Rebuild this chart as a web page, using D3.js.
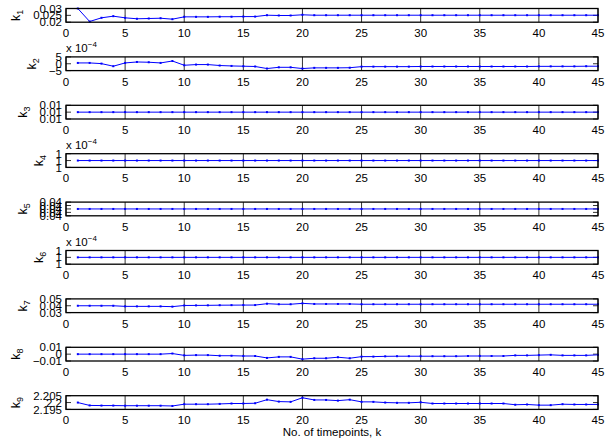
<!DOCTYPE html>
<html><head><meta charset="utf-8">
<script src="https://cdn.jsdelivr.net/npm/d3@7"></script>
<style>body{margin:0;background:#fff} text{font-family:"Liberation Sans",Arial,Helvetica,sans-serif;fill:#000}</style>
</head><body>
<svg id="c" width="605" height="443"></svg>
<script>
// ---- data ----
const timepoints = [1,2,3,4,5,6,7,8,9,10,11,12,13,14,15,16,17,18,19,20,21,22,23,24,25,26,27,28,29,30,31,32,33,34,35,36,37,38,39,40,41,42,43,44,45];
const xTicks = [0,5,10,15,20,25,30,35,40,45];

const k1 = [0.0300,0.0205,0.0232,0.0244,0.0232,0.0225,0.0227,0.0229,0.0222,0.0239,0.0239,0.0239,0.0240,0.0240,0.0241,0.0241,0.0251,0.0249,0.0249,0.0254,0.0251,0.0251,0.0251,0.0251,0.0251,0.0251,0.0251,0.0251,0.0251,0.0251,0.0251,0.0251,0.0251,0.0251,0.0251,0.0251,0.0251,0.0251,0.0251,0.0251,0.0251,0.0251,0.0251,0.0251,0.0251];
// k2 in units of 1e-4
const k2 = [0.6,0.6,0.1,-1.8,0.6,1.3,1.1,0.6,2.0,-1.1,-0.6,-0.6,-1.3,-1.6,-1.8,-2.0,-3.5,-2.6,-2.6,-3.5,-3.0,-3.0,-3.0,-2.9,-2.1,-2.1,-2.1,-2.1,-2.1,-2.0,-2.0,-2.0,-2.0,-2.0,-2.0,-2.0,-2.0,-2.0,-2.0,-1.9,-1.9,-1.9,-1.9,-1.8,-1.8];
const k3 = [0.01,0.01,0.01,0.01,0.01,0.01,0.01,0.01,0.01,0.01,0.01,0.01,0.01,0.01,0.01,0.01,0.01,0.01,0.01,0.01,0.01,0.01,0.01,0.01,0.01,0.01,0.01,0.01,0.01,0.01,0.01,0.01,0.01,0.01,0.01,0.01,0.01,0.01,0.01,0.01,0.01,0.01,0.01,0.01,0.01];
// k4 in units of 1e-4
const k4 = [1,1,1,1,1,1,1,1,1,1,1,1,1,1,1,1,1,1,1,1,1,1,1,1,1,1,1,1,1,1,1,1,1,1,1,1,1,1,1,1,1,1,1,1,1];
const k5 = [0.04,0.04,0.04,0.04,0.04,0.04,0.04,0.04,0.04,0.04,0.04,0.04,0.04,0.04,0.04,0.04,0.04,0.04,0.04,0.04,0.04,0.04,0.04,0.04,0.04,0.04,0.04,0.04,0.04,0.04,0.04,0.04,0.04,0.04,0.04,0.04,0.04,0.04,0.04,0.04,0.04,0.04,0.04,0.04,0.04];
// k6 in units of 1e-4
const k6 = [1,1,1,1,1,1,1,1,1,1,1,1,1,1,1,1,1,1,1,1,1,1,1,1,1,1,1,1,1,1,1,1,1,1,1,1,1,1,1,1,1,1,1,1,1];
const k7 = [0.0400,0.0400,0.0400,0.0400,0.0391,0.0391,0.0391,0.0391,0.0387,0.0404,0.0405,0.0406,0.0408,0.0409,0.0410,0.0410,0.0430,0.0422,0.0422,0.0435,0.0426,0.0426,0.0426,0.0426,0.0422,0.0422,0.0422,0.0422,0.0422,0.0422,0.0422,0.0422,0.0422,0.0422,0.0422,0.0422,0.0422,0.0422,0.0422,0.0422,0.0422,0.0422,0.0422,0.0422,0.0422];
const k8 = [0,0,0,0,0,0,0,0,0.0009,-0.0018,-0.0014,-0.0014,-0.0023,-0.0023,-0.0027,-0.0027,-0.0055,-0.0040,-0.0040,-0.0073,-0.0060,-0.0060,-0.0045,-0.0060,-0.0036,-0.0036,-0.0032,-0.0030,-0.0030,-0.0030,-0.0030,-0.0030,-0.0030,-0.0027,-0.0027,-0.0027,-0.0027,-0.0018,-0.0018,-0.0014,-0.0010,-0.0018,-0.0018,-0.0018,-0.0010];
const k9 = [2.2000,2.1979,2.1978,2.1978,2.1977,2.1977,2.1977,2.1977,2.1975,2.1988,2.1988,2.1988,2.1990,2.1993,2.1993,2.1995,2.2021,2.2007,2.2005,2.2035,2.2019,2.2019,2.2014,2.2021,2.2005,2.2005,2.2000,2.1998,2.1998,2.2002,2.1993,2.1993,2.1993,2.1993,2.1993,2.1993,2.1993,2.1984,2.1986,2.1981,2.1981,2.1988,2.1986,2.1986,2.1986];

const series = [k1,k2,k3,k4,k5,k6,k7,k8,k9];
const yDomains = [[0.02,0.03],[-5,5],[0.0099,0.0101],[0.99,1.01],[0.0398,0.0402],[0.99,1.01],[0.03,0.05],[-0.01,0.01],[2.195,2.205]];
const yTicks = [[0.02,0.025,0.03],[-5,0,5],[0.0099,0.01,0.0101],[0.99,1,1.01],[0.0398,0.0399,0.04,0.0401,0.0402],[0.99,1,1.01],[0.03,0.04,0.05],[-0.01,0,0.01],[2.195,2.2,2.205]];
const yTickLabels = [["0.02","0.025","0.03"],["\u22125","0","5"],["0.01","0.01","0.01"],["1","1","1"],["0.04","0.04","0.04","0.04","0.04"],["1","1","1"],["0.03","0.04","0.05"],["\u22120.01","0","0.01"],["2.195","2.2","2.205"]];
const exponents = [null,"\u22124",null,"\u22124",null,"\u22124",null,null,null];
const yLabels = ["1","2","3","4","5","6","7","8","9"];
const xLabel = "No. of timepoints, k";

// ---- layout ----
const svg = d3.select("#c");
const left = 66, right = 598, top0 = 8.5, pitch = 48.4, h = 13.7;
const fs = 11.5;
const x = d3.scaleLinear().domain([0,45]).range([left,right]);

series.forEach((vals,i)=>{
  const t = top0 + i*pitch, b = t + h;
  const y = d3.scaleLinear().domain(yDomains[i]).range([b,t]);
  const g = svg.append("g");
  // x ticks (bottom and top, inward)
  g.selectAll("line.xb").data(xTicks).join("line")
    .attr("x1",d=>x(d)).attr("x2",d=>x(d)).attr("y1",b).attr("y2",b-7)
    .attr("stroke","#000").attr("stroke-width",0.8);
  g.selectAll("line.xt").data(xTicks).join("line").attr("class","xt")
    .attr("x1",d=>x(d)).attr("x2",d=>x(d)).attr("y1",t).attr("y2",t+7)
    .attr("stroke","#000").attr("stroke-width",0.8);
  // y ticks left/right
  yTicks[i].forEach(v=>{
    g.append("line").attr("x1",left).attr("x2",left+5).attr("y1",y(v)).attr("y2",y(v)).attr("stroke","#000").attr("stroke-width",0.8);
    g.append("line").attr("x1",right).attr("x2",right-5).attr("y1",y(v)).attr("y2",y(v)).attr("stroke","#000").attr("stroke-width",0.8);
  });
  // data line
  const line = d3.line().x((d,j)=>x(timepoints[j])).y(d=>y(d));
  g.append("path").datum(vals).attr("d",line).attr("fill","none").attr("stroke","#0000ff").attr("stroke-width",1);
  g.selectAll("rect.m").data(vals).join("rect")
    .attr("x",(d,j)=>x(timepoints[j])-1).attr("y",d=>y(d)-1).attr("width",2).attr("height",2).attr("fill","#0000ff");
  // box
  g.append("rect").attr("x",left).attr("y",t).attr("width",right-left).attr("height",h)
    .attr("fill","none").attr("stroke","#000").attr("stroke-width",1.3);
  // x tick labels
  g.selectAll("text.xl").data(xTicks).join("text")
    .attr("x",d=>x(d)).attr("y",b+15).attr("text-anchor","middle").attr("font-size",fs).text(d=>d);
  // y tick labels
  let maxW = 0;
  yTicks[i].forEach((v,j)=>{
    const tx = g.append("text").attr("x",left-4).attr("y",y(v)).attr("dy","0.36em")
      .attr("text-anchor","end").attr("font-size",fs).text(yTickLabels[i][j]);
    maxW = Math.max(maxW, tx.node().getComputedTextLength());
  });
  // exponent
  if (exponents[i]) {
    const et = g.append("text").attr("x",left).attr("y",t-5).attr("font-size",fs);
    et.append("tspan").text("x 10");
    et.append("tspan").attr("dy",-5).attr("font-size",8).text(exponents[i]);
  }
  // y label
  const lx = left-4-maxW-13, ly = (t+b)/2;
  const yl = g.append("text").attr("transform",`translate(${lx},${ly}) rotate(-90)`)
    .attr("text-anchor","middle").attr("font-size",12.5);
  yl.append("tspan").text("k");
  yl.append("tspan").attr("dy",3).attr("font-size",9).text(yLabels[i]);
});

svg.append("text").attr("x",(left+right)/2).attr("y",436).attr("text-anchor","middle").attr("font-size",fs).text(xLabel);
</script>
</body></html>
